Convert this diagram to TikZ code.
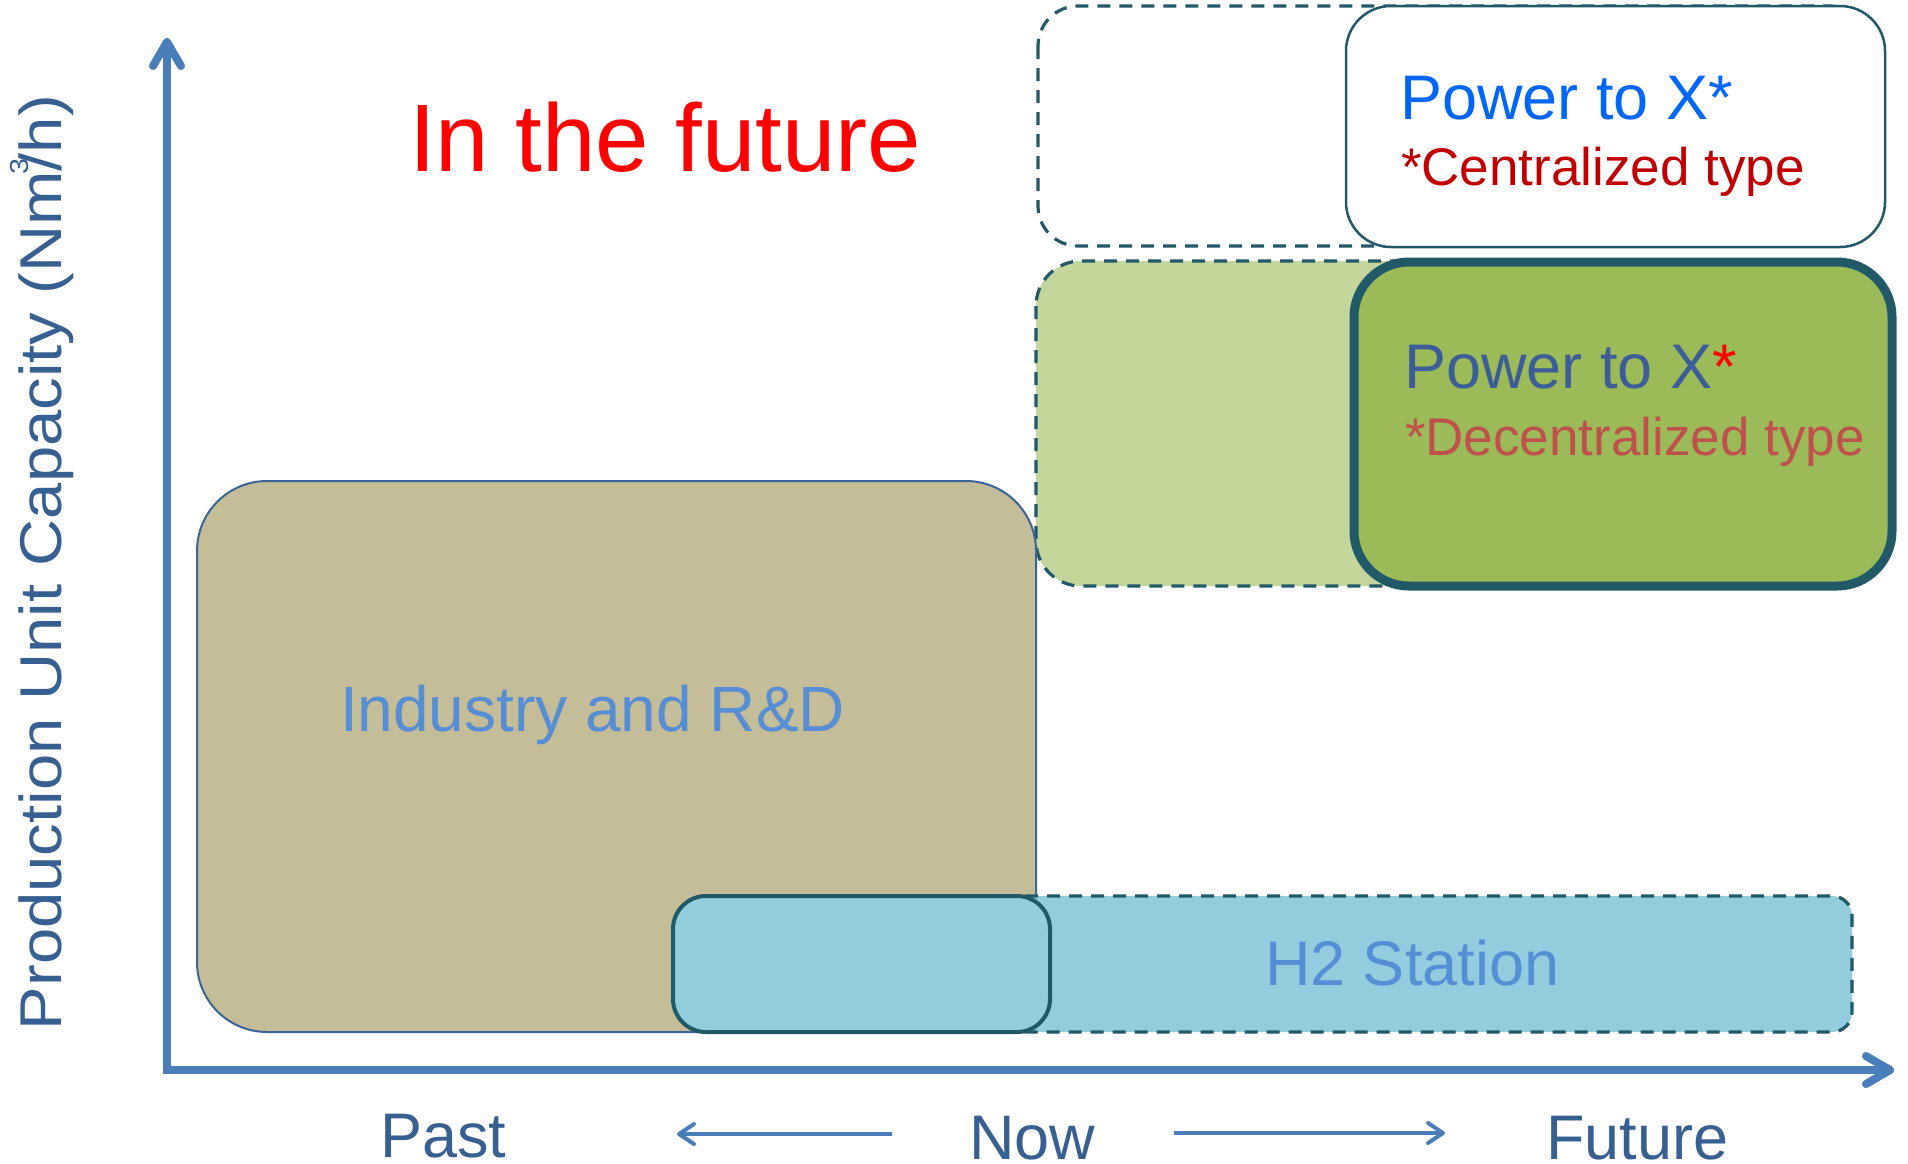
\documentclass[tikz,border=0pt]{standalone}
\usepackage{fontspec}
\setmainfont{Liberation Sans}
\usetikzlibrary{arrows.meta}
\definecolor{axisblue}{HTML}{4A7EBB}
\definecolor{labelblue}{HTML}{376092}
\definecolor{textblue}{HTML}{558ED5}
\definecolor{tealline}{HTML}{215968}
\definecolor{tanfill}{HTML}{C4BD97}
\definecolor{tanline}{HTML}{3A6599}
\definecolor{h2fill}{HTML}{93CDDD}
\definecolor{lightgreen}{HTML}{C3D69B}
\definecolor{midgreen}{HTML}{9BBB59}
\definecolor{ptxblue}{HTML}{0066F5}
\definecolor{ptxdark}{HTML}{3B5E98}
\definecolor{centred}{HTML}{C00000}
\definecolor{decred}{HTML}{C0504D}
\definecolor{purered}{HTML}{FF0000}
\begin{document}
\begin{tikzpicture}[x=1pt,y=-1pt,
  dashbox/.style={draw=tealline, line width=3.2pt, dash pattern=on 13pt off 9pt},
  txt/.style={anchor=base west, inner sep=0pt, outer sep=0pt},
  axisline/.style={draw=axisblue, line width=8pt, line join=miter,
    {Straight Barb[length=24pt,width=28pt,round]}-{Straight Barb[length=24pt,width=28pt,round]}},
  timearrow/.style={draw=axisblue, line width=4pt, -{Straight Barb[length=15pt,width=20pt,round]}}]
\useasboundingbox (0,0) rectangle (1908,1163);

% upper: centralized
\draw[dashbox, fill=white, rounded corners=40pt] (1038,6) rectangle (1870,246);
\draw[draw=tealline, line width=2.5pt, fill=white, rounded corners=45pt] (1346,6) rectangle (1885,247);

% middle: decentralized
\draw[dashbox, fill=lightgreen, rounded corners=45pt] (1036,261) rectangle (1870,586);

% industry and R&D
\draw[draw=tanline, line width=2pt, fill=tanfill, rounded corners=70pt] (197,481) rectangle (1036,1032);

\draw[draw=tealline, line width=9pt, fill=midgreen, rounded corners=55pt] (1354,262) rectangle (1892,586);

% H2 station
\draw[dashbox, fill=h2fill, rounded corners=20pt] (1000,896) rectangle (1852,1032);
\draw[draw=tealline, line width=4pt, fill=h2fill, rounded corners=33pt] (673,896) rectangle (1050,1032);

% axes
\coordinate (ytip) at (167,38);
\coordinate (origin) at (167,1070);
\coordinate (xtip) at (1894,1070);
\draw[axisline] (ytip) -- (origin) -- (xtip);

% texts
\node[txt, text=purered, font=\fontsize{96}{110}\selectfont] (title) at (409,171) {In the future};
\node[txt, text=ptxblue, font=\fontsize{63}{70}\selectfont] (ptxa) at (1400,119) {Power to X*};
\node[txt, text=centred, font=\fontsize{53}{60}\selectfont] (cent) at (1401,185) {*Centralized type};
\node[txt, text=ptxdark, font=\fontsize{63}{70}\selectfont] (ptxb) at (1404,388) {Power to X\textcolor{purered}{*}};
\node[txt, text=decred, font=\fontsize{53}{60}\selectfont] (dec) at (1405,455) {*Decentralized type};
\node[txt, text=textblue, font=\fontsize{64}{70}\selectfont] (ind) at (340,731) {Industry and R\&D};
\node[txt, text=textblue, font=\fontsize{63}{70}\selectfont] (h2) at (1265,985) {H2 Station};
\node[txt, rotate=90, text=labelblue, font=\fontsize{59}{66}\selectfont] (ylab) at (61,1030)
  {\scalebox{1.105}[1]{Production Unit Capacity (Nm\rlap{\kern-3pt\raisebox{33pt}{\fontsize{26}{26}\selectfont 3}}/h)}};
\node[txt, text=labelblue, font=\fontsize{63}{70}\selectfont] (past) at (380,1157) {Past};
\node[txt, text=labelblue, font=\fontsize{63}{70}\selectfont] (now) at (969,1159) {Now};
\node[txt, text=labelblue, font=\fontsize{63}{70}\selectfont] (future) at (1546,1159) {Future};

% time arrows
\coordinate (la1) at (892,1134);
\coordinate (la2) at (677,1134);
\coordinate (ra1) at (1174,1133);
\coordinate (ra2) at (1445,1133);
\draw[timearrow] (la1) -- (la2);
\draw[timearrow] (ra1) -- (ra2);
\end{tikzpicture}
\end{document}
